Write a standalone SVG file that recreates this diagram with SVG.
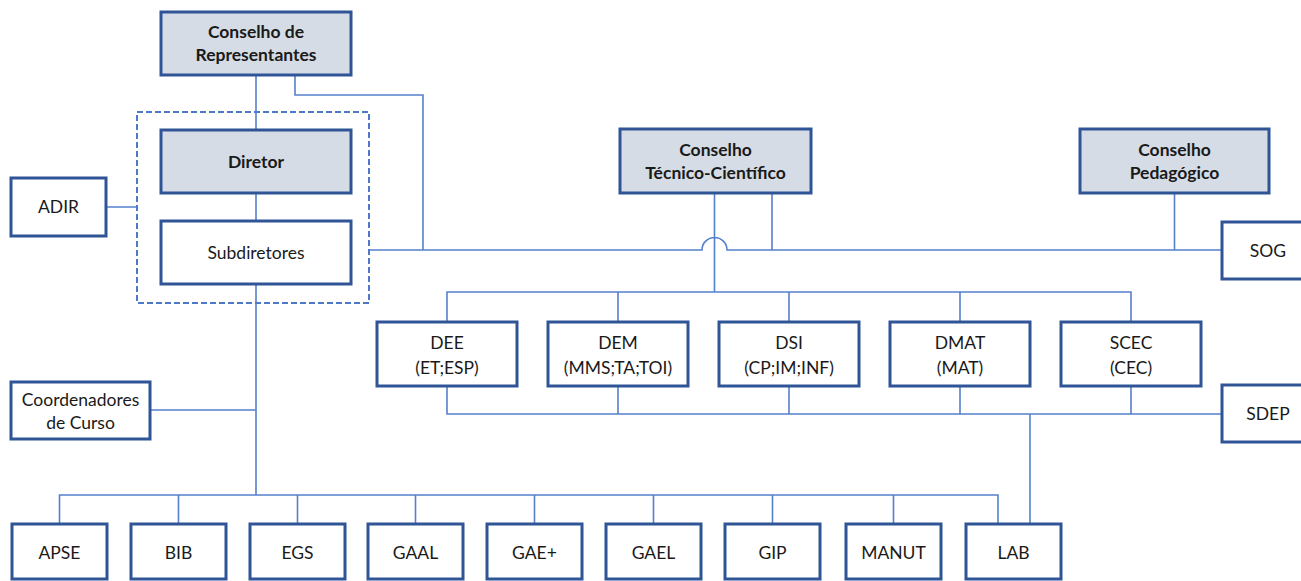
<svg xmlns="http://www.w3.org/2000/svg" width="1301" height="581" viewBox="0 0 1301 581">
<style>
.box{fill:#ffffff;stroke:#2F5597;stroke-width:3}
.hdr{fill:#D6DCE5;stroke:#2F5597;stroke-width:3}
.t{font-family:Lato,"Liberation Sans",sans-serif;font-size:17.5px;fill:#1a1a1a;text-anchor:middle}
.b{font-weight:bold}
.c{fill:none;stroke:#5580CC;stroke-width:1.6}
.dash{fill:none;stroke:#4E79C8;stroke-width:2;stroke-dasharray:6 3}
</style>
<rect width="1301" height="581" fill="#ffffff"/>
<g id="connectors">
<path class="c" d="M256 75V130M295 75V95H423V250M256 193V221M106 207H137"/>
<path class="c" d="M369 250H702A12.5 12.5 0 0 1 727 250H1222M714.5 193V292M772 193V250M1174.5 193V250"/>
<path class="c" d="M447 322V292H1131V322M618 292V322M789 292V322M960 292V322"/>
<path class="c" d="M447 386V414H1222M618 386V414M789 386V414M960 386V414M1131 386V414M1030 414V524"/>
<path class="c" d="M256 284V495M150 410H256M59.5 524V495H998V524M178.5 495V524M297.5 495V524M415.5 495V524M534.5 495V524M653.5 495V524M772.5 495V524M893.5 495V524"/>
</g>
<rect id="direcao" class="dash" x="137" y="112" width="232" height="191"/>
<g id="conselho-representantes"><rect class="hdr" x="161" y="12" width="190" height="63"/><text class="t b" x="256" y="38">Conselho de</text><text class="t b" x="256" y="61">Representantes</text></g>
<g id="diretor"><rect class="hdr" x="161" y="130" width="190" height="63"/><text class="t b" x="256" y="168">Diretor</text></g>
<g id="subdiretores"><rect class="box" x="161" y="221" width="190" height="63"/><text class="t" x="256" y="259">Subdiretores</text></g>
<g id="adir"><rect class="box" x="11" y="178" width="95" height="58"/><text class="t" x="58.5" y="213">ADIR</text></g>
<g id="conselho-tecnico"><rect class="hdr" x="620" y="129" width="191" height="64"/><text class="t b" x="715.5" y="156">Conselho</text><text class="t b" x="715.5" y="179">Técnico-Científico</text></g>
<g id="conselho-pedagogico"><rect class="hdr" x="1080" y="129" width="189" height="64"/><text class="t b" x="1174.5" y="156">Conselho</text><text class="t b" x="1174.5" y="179">Pedagógico</text></g>
<g id="sog"><rect class="box" x="1222" y="222" width="92" height="57"/><text class="t" x="1268" y="257">SOG</text></g>
<g id="sdep"><rect class="box" x="1222" y="385" width="92" height="57"/><text class="t" x="1268" y="420">SDEP</text></g>
<g id="dee"><rect class="box" x="377" y="322" width="140" height="64"/><text class="t" x="447" y="349">DEE</text><text class="t" x="447" y="374">(ET;ESP)</text></g>
<g id="dem"><rect class="box" x="548" y="322" width="140" height="64"/><text class="t" x="618" y="349">DEM</text><text class="t" x="618" y="374">(MMS;TA;TOI)</text></g>
<g id="dsi"><rect class="box" x="719" y="322" width="140" height="64"/><text class="t" x="789" y="349">DSI</text><text class="t" x="789" y="374">(CP;IM;INF)</text></g>
<g id="dmat"><rect class="box" x="890" y="322" width="140" height="64"/><text class="t" x="960" y="349">DMAT</text><text class="t" x="960" y="374">(MAT)</text></g>
<g id="scec"><rect class="box" x="1061" y="322" width="140" height="64"/><text class="t" x="1131" y="349">SCEC</text><text class="t" x="1131" y="374">(CEC)</text></g>
<g id="coordenadores"><rect class="box" x="11" y="382" width="139" height="57"/><text class="t" x="80.5" y="406">Coordenadores</text><text class="t" x="80.5" y="429">de Curso</text></g>
<g id="apse"><rect class="box" x="12" y="524" width="95" height="55"/><text class="t" x="59.5" y="559">APSE</text></g>
<g id="bib"><rect class="box" x="131" y="524" width="95" height="55"/><text class="t" x="178.5" y="559">BIB</text></g>
<g id="egs"><rect class="box" x="250" y="524" width="95" height="55"/><text class="t" x="297.5" y="559">EGS</text></g>
<g id="gaal"><rect class="box" x="368" y="524" width="95" height="55"/><text class="t" x="415.5" y="559">GAAL</text></g>
<g id="gae"><rect class="box" x="487" y="524" width="95" height="55"/><text class="t" x="534.5" y="559">GAE+</text></g>
<g id="gael"><rect class="box" x="606" y="524" width="95" height="55"/><text class="t" x="653.5" y="559">GAEL</text></g>
<g id="gip"><rect class="box" x="725" y="524" width="95" height="55"/><text class="t" x="772.5" y="559">GIP</text></g>
<g id="manut"><rect class="box" x="846" y="524" width="95" height="55"/><text class="t" x="893.5" y="559">MANUT</text></g>
<g id="lab"><rect class="box" x="966" y="524" width="95" height="55"/><text class="t" x="1013.5" y="559">LAB</text></g>
</svg>
